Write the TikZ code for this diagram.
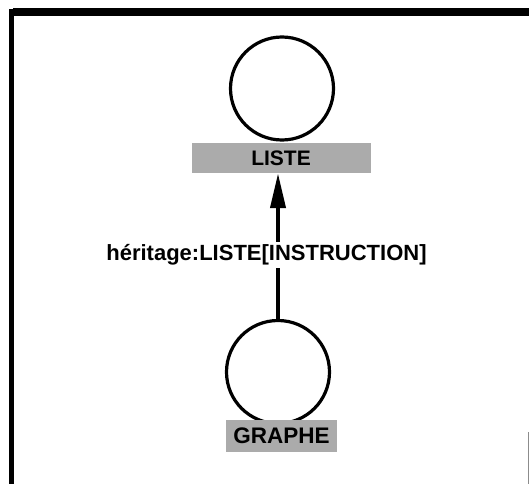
\documentclass[tikz,border=0pt]{standalone}
\usepackage{fontspec}
\setmainfont{Liberation Sans}
\usetikzlibrary{arrows.meta}
\begin{document}
\begin{tikzpicture}[x=1pt,y=-1pt,
  classe/.style={circle,draw=black,line width=3.2pt,minimum size=103pt,inner sep=0pt},
  nomband/.style={rectangle,fill=black!33,inner sep=0pt,font=\bfseries\fontsize{21}{24}\selectfont},
  lien/.style={line width=4pt,-{Triangle[length=35pt,width=15pt]}},
  etiq/.style={fill=white,inner sep=3pt,font=\bfseries\fontsize{22}{25}\selectfont}]
\useasboundingbox (0,0) rectangle (529,484);
% frame
\draw[line width=8pt] (13,12) -- (529,12);
\draw[line width=4.5pt] (11.5,9) -- (11.5,484);
\draw[black!45,line width=1pt] (528,432) -- (528,484);
% classes
\node[classe] (liste) at (282,88.5) {};
\node[nomband,minimum width=179pt,minimum height=30pt] (listenom) at (281,158) {LISTE};
\node[classe] (graphe) at (278,372) {};
\node[nomband,minimum width=111pt,minimum height=32pt,font=\bfseries\fontsize{22.5}{25}\selectfont] (graphenom) at (281.5,436) {GRAPHE};
% inheritance
\draw[lien] (graphe.north) -- (graphe.north |- listenom.south);
\node[etiq] (herit) at (266.5,255) {héritage:LISTE[INSTRUCTION]};
\end{tikzpicture}
\end{document}
